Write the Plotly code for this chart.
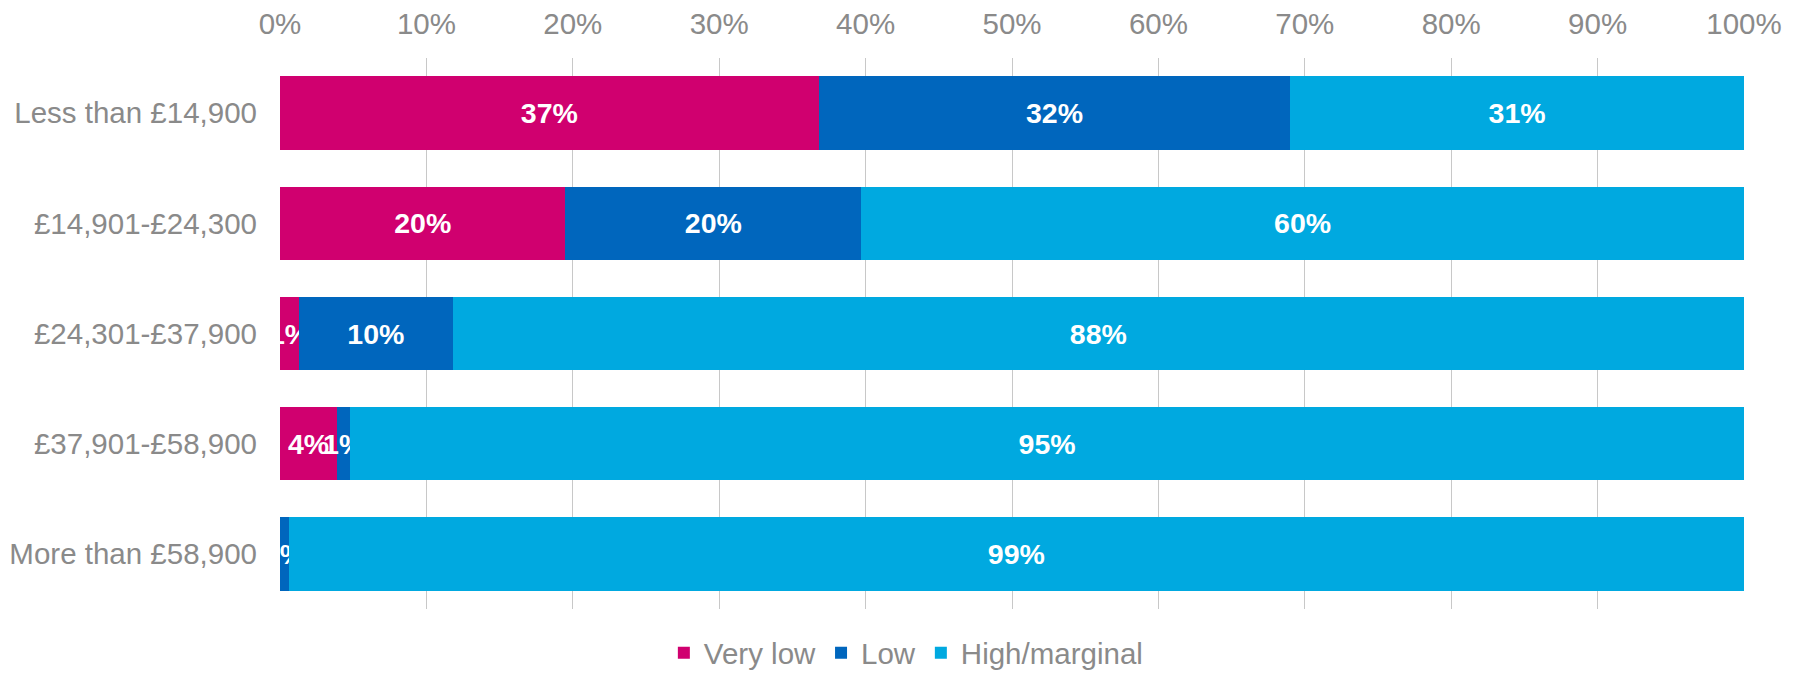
import plotly.graph_objects as go

categories = ["Less than £14,900", "£14,901-£24,300", "£24,301-£37,900",
              "£37,901-£58,900", "More than £58,900"]
series_names = ["Very low", "Low", "High/marginal"]
very_low = [36.8, 19.5, 1.3, 3.9, 0.0]
low = [32.2, 20.2, 10.5, 0.9, 0.6]
high_marginal = [31.0, 60.3, 88.2, 95.2, 99.4]
very_low_labels = ["37%", "20%", "1%", "4%", ""]
low_labels = ["32%", "20%", "10%", "1%", "1%"]
high_labels = ["31%", "60%", "88%", "95%", "99%"]
colors = ["#D0006F", "#0066BD", "#00A9E0"]
x_ticks = list(range(0, 101, 10))
x_tick_labels = [f"{v}%" for v in x_ticks]

FONT = "Liberation Sans, Arial, sans-serif"
GRAY = "#8A8A8A"

fig = go.Figure()
for name, vals, labels, col in zip(series_names,
                                   [very_low, low, high_marginal],
                                   [very_low_labels, low_labels, high_labels],
                                   colors):
    fig.add_trace(go.Bar(
        y=categories, x=vals, name=name, orientation="h",
        marker=dict(color=col, line=dict(width=0)),
        text=labels, textposition="inside", insidetextanchor="middle",
        constraintext="none", textangle=0,
        textfont=dict(family=FONT, size=28.5, color="white", weight="bold"),
        cliponaxis=True, hoverinfo="skip",
    ))

# page body has an 8px margin, so the figure is offset by 8px
fig.update_layout(
    width=1785, height=662,
    barmode="stack", bargap=0.333,
    plot_bgcolor="white", paper_bgcolor="white",
    margin=dict(l=272, r=49, t=50, b=61, autoexpand=False),
    font=dict(family=FONT, size=29.5, color=GRAY),
    showlegend=True,
    legend=dict(orientation="h", xref="container", yref="paper",
                x=0.503, xanchor="center", y=-0.08, yanchor="middle",
                font=dict(family=FONT, size=29.5, color=GRAY),
                traceorder="normal", tracegroupgap=0),
)
fig.update_xaxes(
    side="top", range=[0, 100], tickvals=x_ticks, ticktext=x_tick_labels,
    showgrid=True, gridcolor="#C8C8C8", gridwidth=1, zeroline=False,
    showline=False, ticks="", tickfont=dict(family=FONT, size=29.5, color=GRAY),
    ticklabelstandoff=17, fixedrange=True, automargin=False,
)
fig.update_yaxes(
    autorange="reversed", showgrid=False, zeroline=False, showline=False,
    ticks="", tickfont=dict(family=FONT, size=29.5, color=GRAY),
    ticklabelstandoff=22, fixedrange=True, automargin=False,
)

fig.write_html("out.html")
